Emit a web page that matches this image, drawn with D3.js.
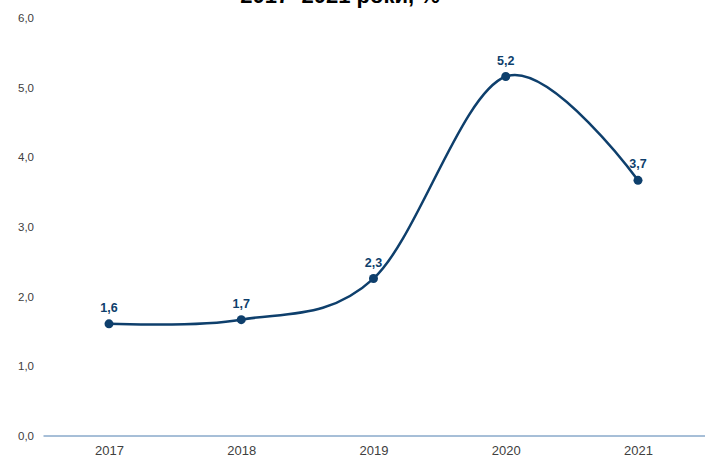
<!DOCTYPE html>
<html>
<head>
<meta charset="utf-8">
<script src="https://cdn.jsdelivr.net/npm/d3@7"></script>
<style>
  body { margin: 0; background: #fff; }
  text { font-family: "Liberation Sans", Arial, sans-serif; }
</style>
</head>
<body>
<svg id="chart" width="711" height="457"></svg>
<script>
const years = ["2017", "2018", "2019", "2020", "2021"];
const values = [1.61, 1.67, 2.26, 5.16, 3.67];
const labels = ["1,6", "1,7", "2,3", "5,2", "3,7"];
const yTicks = [0, 1, 2, 3, 4, 5, 6];
const title = "2017–2021 роки, %";

const svg = d3.select("#chart");
const color = "#0e3f6c";

const x = d3.scalePoint()
  .domain(years)
  .range([109, 638]);

const y = d3.scaleLinear()
  .domain([0, 6])
  .range([436, 18]);

// title, mostly cut off at the top
svg.append("text")
  .attr("x", 340)
  .attr("y", 3)
  .attr("text-anchor", "middle")
  .attr("font-size", 22)
  .attr("font-weight", "bold")
  .attr("fill", "#000")
  .text(title);

// y tick labels
svg.append("g")
  .selectAll("text")
  .data(yTicks)
  .join("text")
  .attr("x", 34)
  .attr("y", d => y(d))
  .attr("dy", "0.35em")
  .attr("text-anchor", "end")
  .attr("font-size", 11.5)
  .attr("fill", "#404040")
  .text(d => d3.format(".1f")(d).replace(".", ","));

// x axis
const xAxis = svg.append("g")
  .attr("transform", `translate(0,${y(0)})`)
  .call(d3.axisBottom(x).tickSize(0).tickPadding(10));
xAxis.select(".domain")
  .attr("d", "M43.5,0H705")
  .attr("stroke", "#4f7fb0")
  .attr("stroke-width", 1);
xAxis.selectAll("text")
  .attr("font-size", 13)
  .attr("fill", "#404040")
  .attr("font-family", "Liberation Sans, Arial, sans-serif");

const pts = years.map((yr, i) => ({ year: yr, v: values[i], label: labels[i] }));

const line = d3.line()
  .x(d => x(d.year))
  .y(d => y(d.v))
  .curve(d3.curveCardinal.tension(0));

svg.append("path")
  .datum(pts)
  .attr("d", line)
  .attr("fill", "none")
  .attr("stroke", color)
  .attr("stroke-width", 2.5);

svg.append("g")
  .selectAll("circle")
  .data(pts)
  .join("circle")
  .attr("cx", d => x(d.year))
  .attr("cy", d => y(d.v))
  .attr("r", 4.5)
  .attr("fill", color);

svg.append("g")
  .selectAll("text")
  .data(pts)
  .join("text")
  .attr("x", d => x(d.year))
  .attr("y", d => y(d.v) - 12)
  .attr("text-anchor", "middle")
  .attr("font-size", 12.5)
  .attr("font-weight", "bold")
  .attr("fill", color)
  .text(d => d.label);
</script>
</body>
</html>
